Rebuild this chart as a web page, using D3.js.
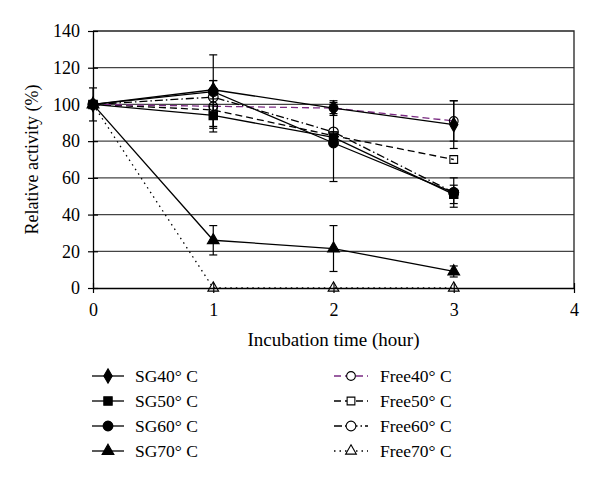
<!DOCTYPE html>
<html><head><meta charset="utf-8">
<script src="https://cdn.jsdelivr.net/npm/d3@7"></script>
<style>body{margin:0;background:#fff}svg{display:block}</style>
</head><body>
<script>
const hours = [0, 1, 2, 3];
const xTicks = [0, 1, 2, 3, 4];
const yTicks = [0, 20, 40, 60, 80, 100, 120, 140];
const seriesNames = ["SG40°C","SG50°C","SG60°C","SG70°C","Free40°C","Free50°C","Free60°C","Free70°C"];
const sg40 = [100, 108, 98, 89];
const sg50 = [100, 94, 82, 51];
const sg60 = [100, 107, 79, 52];
const sg70 = [100, 26, 21.5, 9];
const free40 = [100, 99, 98, 91];
const free50 = [100, 97, 83, 70];
const free60 = [100, 104, 85, 52];
const free70 = [100, 0, 0, 0];
const sg40Err = [9, 5, 3, 13];
const sg50Err = [0, 6, 3, 5];
const sg60Err = [0, 20, 21, 8];
const sg70Err = [0, 8, 12.5, 3];
const free40Err = [0, 14, 4, 11];
const free50Err = [0, 0, 0, 0];
const free60Err = [0, 0, 0, 0];
const free70Err = [0, 0, 0, 0];

const W = 600, H = 482;
const m = {l: 93, r: 26, t: 31, b: 194};
const svg = d3.select("body").append("svg").attr("width", W).attr("height", H);
const x = d3.scaleLinear().domain([0, 4]).range([m.l, W - m.r]);
const y = d3.scaleLinear().domain([0, 140]).range([H - m.b, m.t]);
const font = "'Liberation Serif', 'DejaVu Serif', serif";

// gridlines
svg.append("g").selectAll("line").data(yTicks.filter(v => v > 0 && v < 140)).join("line")
  .attr("x1", x(0)).attr("x2", x(4)).attr("y1", d => y(d)).attr("y2", d => y(d))
  .attr("stroke", "#444").attr("stroke-width", 1.3);
// frame top & right
svg.append("path").attr("d", `M${x(0)},${y(140)}H${x(4)}V${y(0)}`).attr("fill", "none").attr("stroke", "#222").attr("stroke-width", 1.3);

// axes
const yAxis = d3.axisLeft(y).tickValues(yTicks).tickSize(0).tickPadding(13);
const gy = svg.append("g").attr("transform", `translate(${x(0)},0)`).call(yAxis);
gy.select(".domain").attr("stroke", "#000").attr("stroke-width", 1.3);
gy.selectAll("text").attr("font-family", font).attr("font-size", 18).attr("fill", "#000");
gy.selectAll(".tick").append("line").attr("x1", -5).attr("x2", 5).attr("stroke", "#000").attr("stroke-width", 1.2);

const xAxis = d3.axisBottom(x).tickValues(xTicks).tickFormat(d3.format("d")).tickSize(0).tickPadding(15);
const gx = svg.append("g").attr("transform", `translate(0,${y(0)})`).call(xAxis);
gx.select(".domain").attr("stroke", "#000").attr("stroke-width", 1.3);
gx.selectAll("text").attr("font-family", font).attr("font-size", 18).attr("fill", "#000");
gx.selectAll(".tick").append("line").attr("y1", -5).attr("y2", 5).attr("stroke", "#000").attr("stroke-width", 1.2);

svg.append("text").attr("x", (x(0) + x(4)) / 2).attr("y", 346).attr("text-anchor", "middle")
  .attr("font-family", font).attr("font-size", 19).text("Incubation time (hour)");
svg.append("text").attr("transform", `translate(38,${(y(0)+y(140))/2}) rotate(-90)`).attr("text-anchor", "middle")
  .attr("font-family", font).attr("font-size", 18).text("Relative activity (%)");

const series = [
  {name: seriesNames[0], v: sg40, e: sg40Err, color: "#000", dash: null, sym: d3.symbolDiamond, fill: true, size: 60},
  {name: seriesNames[1], v: sg50, e: sg50Err, color: "#000", dash: null, sym: d3.symbolSquare, fill: true, size: 70},
  {name: seriesNames[2], v: sg60, e: sg60Err, color: "#000", dash: null, sym: d3.symbolCircle, fill: true, size: 75},
  {name: seriesNames[3], v: sg70, e: sg70Err, color: "#000", dash: null, sym: d3.symbolTriangle, fill: true, size: 60},
  {name: seriesNames[4], v: free40, e: free40Err, color: "#7a2a82", dash: "7,4", sym: d3.symbolCircle, fill: false, size: 60},
  {name: seriesNames[5], v: free50, e: free50Err, color: "#000", dash: "7,4", sym: d3.symbolSquare, fill: false, size: 60},
  {name: seriesNames[6], v: free60, e: free60Err, color: "#000", dash: "8,3,1.5,3", sym: d3.symbolCircle, fill: false, size: 75},
  {name: seriesNames[7], v: free70, e: free70Err, color: "#000", dash: "1.5,4", sym: d3.symbolTriangle, fill: false, size: 50},
];

const line = d3.line().x((d, i) => x(hours[i])).y(d => y(d));
const plot = svg.append("g");
// error bars
series.forEach(s => {
  s.v.forEach((v, i) => {
    const e = s.e[i];
    if (!e) return;
    const g = plot.append("g").attr("stroke", "#000").attr("stroke-width", 1.2);
    g.append("line").attr("x1", x(hours[i])).attr("x2", x(hours[i])).attr("y1", y(v + e)).attr("y2", y(v - e));
    [v + e, v - e].forEach(t => g.append("line").attr("x1", x(hours[i]) - 4).attr("x2", x(hours[i]) + 4).attr("y1", y(t)).attr("y2", y(t)));
  });
});
// lines
series.slice().reverse().forEach(s => {
  plot.append("path").attr("d", line(s.v)).attr("fill", "none").attr("stroke", s.color)
    .attr("stroke-width", 1.3).attr("stroke-dasharray", s.dash);
});
// markers
series.slice().reverse().forEach(s => {
  plot.append("g").selectAll("path").data(s.v).join("path")
    .attr("transform", (d, i) => `translate(${x(hours[i])},${y(d)})`)
    .attr("d", d3.symbol().type(s.sym).size(s.size))
    .attr("fill", s.fill ? "#000" : "#fff").attr("fill-opacity", s.fill ? 1 : 0)
    .attr("stroke", "#000").attr("stroke-width", 1.1);
});

// legend
const legY = [376, 401, 426, 451];
series.forEach((s, k) => {
  const col = k < 4 ? 0 : 1;
  const row = k % 4;
  const x0 = col === 0 ? 92 : 334;
  const x1 = col === 0 ? 124 : 368;
  const tx = col === 0 ? 135 : 380;
  const cy = legY[row];
  const g = svg.append("g");
  g.append("line").attr("x1", x0).attr("x2", x1).attr("y1", cy).attr("y2", cy)
    .attr("stroke", s.color).attr("stroke-width", 1.3).attr("stroke-dasharray", s.dash);
  g.append("path").attr("transform", `translate(${(x0 + x1) / 2},${cy})`)
    .attr("d", d3.symbol().type(s.sym).size(s.size))
    .attr("fill", s.fill ? "#000" : "#fff").attr("stroke", "#000").attr("stroke-width", 1.1);
  g.append("text").attr("x", tx).attr("y", cy).attr("dy", "0.35em")
    .attr("font-family", font).attr("font-size", 17.5).text(s.name.replace("°C", "° C"));
});
</script>
</body></html>
